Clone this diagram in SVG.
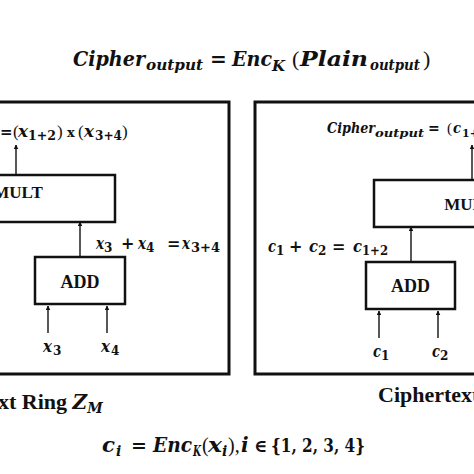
<svg xmlns="http://www.w3.org/2000/svg" width="474" height="474" viewBox="0 0 474 474">
<style>
.m{font-family:"DejaVu Serif","Liberation Serif",serif;font-weight:bold;font-style:italic;fill:#111}
.u{font-family:"DejaVu Serif","Liberation Serif",serif;font-weight:bold;font-style:normal;fill:#111}
.p{font-family:"Liberation Serif","Times New Roman",serif;font-weight:normal;fill:#111}
.t{font-family:"Liberation Serif","Times New Roman",serif;font-weight:bold;fill:#111}
.box{fill:#fff;stroke:#111;stroke-width:2.5}
.outer{fill:#fff;stroke:#111;stroke-width:3}
.ln{stroke:#111;stroke-width:1.4;fill:none;marker-end:url(#ah)}
</style>
<defs>
<marker id="ah" viewBox="0 0 10 10" refX="9" refY="5" markerWidth="4.5" markerHeight="5" orient="auto" markerUnits="userSpaceOnUse">
<path d="M0,0 L10,5 L0,10 z" fill="#111"/>
</marker>
</defs>
<rect width="474" height="474" fill="#fff"/>

<g id="title">
<text class="m" x="73" y="66" font-size="21" textLength="72" lengthAdjust="spacingAndGlyphs">Cipher</text>
<text class="m" x="146" y="70" font-size="15" textLength="57" lengthAdjust="spacingAndGlyphs">output</text>
<text class="u" x="210" y="66" font-size="20">=</text>
<text class="m" x="232" y="66" font-size="21" textLength="40" lengthAdjust="spacingAndGlyphs">Enc</text>
<text class="m" x="272" y="71" font-size="15" textLength="13" lengthAdjust="spacingAndGlyphs">K</text>
<text class="p" x="292" y="66" font-size="22">(</text>
<text class="m" x="300" y="66" font-size="21" textLength="68" lengthAdjust="spacingAndGlyphs">Plain</text>
<text class="m" x="370" y="70" font-size="15" textLength="50" lengthAdjust="spacingAndGlyphs">output</text>
<text class="p" x="423" y="66" font-size="22">)</text>
</g>

<g id="plain-ring">
<rect class="outer" x="-10" y="102" width="239" height="272"/>
<text class="t" y="409" font-size="22"><tspan x="-2">xt Ring </tspan><tspan class="m" font-size="20">Z</tspan><tspan class="m" font-size="14" dy="4">M</tspan></text>
</g>
<g id="plain-mult">
<rect class="box" x="-79" y="175" width="194" height="47"/>
<text class="t" x="18" y="198" font-size="17" text-anchor="middle">MULT</text>
</g>
<g id="plain-add">
<rect class="box" x="35" y="257" width="90" height="47"/>
<text class="t" x="80" y="288" font-size="18" text-anchor="middle">ADD</text>
</g>
<g id="plain-labels">
<text class="u" x="0" y="137" font-size="15">=</text>
<text class="p" x="13" y="137" font-size="17">(</text>
<text class="m" x="18" y="137" font-size="16" textLength="10" lengthAdjust="spacingAndGlyphs">x</text>
<text class="u" x="28" y="140" font-size="12" textLength="28" lengthAdjust="spacingAndGlyphs">1+2</text>
<text class="p" x="57" y="137" font-size="17">)</text>
<text class="u" x="67" y="137" font-size="13">x</text>
<text class="p" x="78" y="137" font-size="17">(</text>
<text class="m" x="84" y="137" font-size="16" textLength="10" lengthAdjust="spacingAndGlyphs">x</text>
<text class="u" x="95" y="140" font-size="12" textLength="27" lengthAdjust="spacingAndGlyphs">3+4</text>
<text class="p" x="122" y="137" font-size="17">)</text>

<text class="m" x="96" y="249" font-size="16" textLength="8" lengthAdjust="spacingAndGlyphs">x</text>
<text class="u" x="104" y="252" font-size="12">3</text>
<text class="u" x="121" y="249" font-size="16">+</text>
<text class="m" x="138" y="249" font-size="16" textLength="8" lengthAdjust="spacingAndGlyphs">x</text>
<text class="u" x="146" y="252" font-size="12">4</text>
<text class="u" x="167" y="249" font-size="16">=</text>
<text class="m" x="182" y="249" font-size="16" textLength="8" lengthAdjust="spacingAndGlyphs">x</text>
<text class="u" x="191" y="252" font-size="12" textLength="29" lengthAdjust="spacingAndGlyphs">3+4</text>

<text class="m" x="43" y="352" font-size="16" textLength="9" lengthAdjust="spacingAndGlyphs">x</text>
<text class="u" x="53" y="355" font-size="12">3</text>
<text class="m" x="101" y="352" font-size="16" textLength="9" lengthAdjust="spacingAndGlyphs">x</text>
<text class="u" x="111" y="355" font-size="12">4</text>
</g>

<g id="cipher-ring">
<rect class="outer" x="255" y="102" width="240" height="272"/>
<text class="t" x="378" y="402" font-size="22">Ciphertext</text>
</g>
<g id="cipher-mult">
<rect class="box" x="374" y="180" width="190" height="47"/>
<text class="t" x="469" y="210" font-size="17" text-anchor="middle">MULT</text>
</g>
<g id="cipher-add">
<rect class="box" x="366" y="262" width="89" height="47"/>
<text class="t" x="410.5" y="292" font-size="18" text-anchor="middle">ADD</text>
</g>
<g id="cipher-labels">
<text class="m" x="327" y="133" font-size="14" textLength="48" lengthAdjust="spacingAndGlyphs">Cipher</text>
<text class="m" x="375" y="137" font-size="11" textLength="49" lengthAdjust="spacingAndGlyphs">output</text>
<text class="u" x="428" y="133" font-size="14">=</text>
<text class="p" x="447" y="133" font-size="15">(</text>
<text class="m" x="453" y="133" font-size="14" textLength="8" lengthAdjust="spacingAndGlyphs">c</text>
<text class="u" x="462" y="137" font-size="11">1+2</text>

<text class="m" x="268" y="252" font-size="16" textLength="8" lengthAdjust="spacingAndGlyphs">c</text>
<text class="u" x="276" y="255" font-size="12">1</text>
<text class="u" x="289" y="252" font-size="16">+</text>
<text class="m" x="309" y="252" font-size="16" textLength="9" lengthAdjust="spacingAndGlyphs">c</text>
<text class="u" x="318" y="255" font-size="12">2</text>
<text class="u" x="332" y="252" font-size="16">=</text>
<text class="m" x="353" y="252" font-size="16" textLength="9" lengthAdjust="spacingAndGlyphs">c</text>
<text class="u" x="362" y="255" font-size="12" textLength="26" lengthAdjust="spacingAndGlyphs">1+2</text>

<text class="m" x="373" y="357" font-size="16" textLength="8" lengthAdjust="spacingAndGlyphs">c</text>
<text class="u" x="381" y="360" font-size="12">1</text>
<text class="m" x="432" y="357" font-size="16" textLength="8" lengthAdjust="spacingAndGlyphs">c</text>
<text class="u" x="440" y="360" font-size="12">2</text>
</g>

<g id="footer">
<text class="m" x="102" y="452" font-size="20" textLength="13" lengthAdjust="spacingAndGlyphs">c</text>
<text class="m" x="116" y="456" font-size="14">i</text>
<text class="u" x="131" y="452" font-size="19">=</text>
<text class="m" x="153" y="452" font-size="20" textLength="39" lengthAdjust="spacingAndGlyphs">Enc</text>
<text class="m" x="193" y="456" font-size="14" textLength="8" lengthAdjust="spacingAndGlyphs">K</text>
<text class="p" x="202" y="452" font-size="20">(</text>
<text class="m" x="208" y="452" font-size="20" textLength="14" lengthAdjust="spacingAndGlyphs">x</text>
<text class="m" x="222" y="456" font-size="14">i</text>
<text class="p" x="228" y="452" font-size="20">),</text>
<text class="m" x="241" y="452" font-size="20">i</text>
<text class="u" x="254" y="452" font-size="18">∈</text>
<text class="u" x="271" y="452" font-size="19" textLength="94" lengthAdjust="spacingAndGlyphs">{1, 2, 3, 4}</text>
</g>

<g id="connectors">
<line class="ln" x1="16" y1="175" x2="16" y2="145"/>
<line class="ln" x1="80" y1="257" x2="80" y2="222"/>
<line class="ln" x1="48" y1="333" x2="48" y2="306"/>
<line class="ln" x1="107" y1="333" x2="107" y2="306"/>
<line class="ln" x1="472" y1="180" x2="472" y2="145"/>
<line class="ln" x1="411" y1="262" x2="411" y2="227"/>
<line class="ln" x1="379" y1="338" x2="379" y2="311"/>
<line class="ln" x1="438" y1="338" x2="438" y2="311"/>
</g>
</svg>
